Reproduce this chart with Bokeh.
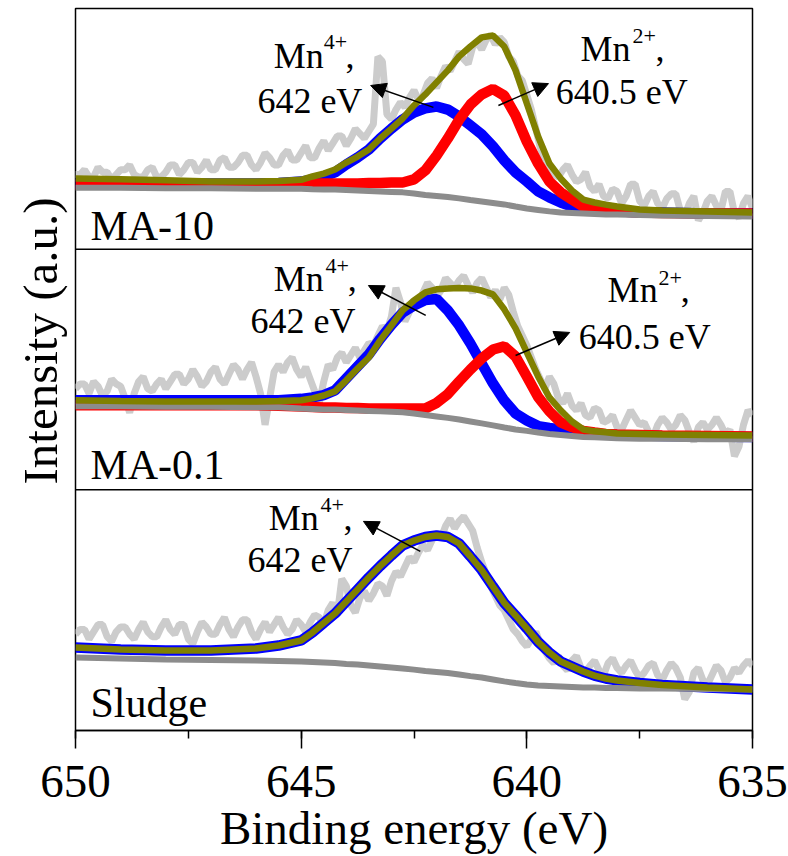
import math
from bokeh.plotting import figure
from bokeh.models import Range1d, Span, Arrow, NormalHead, SingleIntervalTicker, Title
from bokeh.core.properties import value
from bokeh.embed import file_html
from bokeh.resources import INLINE

FONT = "'Liberation Serif', 'Times New Roman', serif"

# ---------------- data (binding energy in eV, intensity in a.u. per panel 0-100) -------------
E_FIT = [650, 649, 648, 647, 646, 645.5, 645, 644.75, 644.5, 644.25, 644, 643.75, 643.5,
         643.25, 643, 642.75, 642.5, 642.25, 642, 641.75, 641.5, 641.25, 641, 640.75, 640.5,
         640.25, 640, 639.75, 639.5, 639.25, 639, 638.75, 638.5, 638.25, 638, 637.5, 637,
         636, 635]
E_RAW = [round(650 - 0.1 * i, 1) for i in range(151)]

# MA-10
MA10_RAW = [31, 31, 33, 30, 30, 34, 32, 32, 29, 31,
            33, 33, 35, 31, 30, 30, 33, 34, 30, 30,
            32, 35, 35, 31, 33, 36, 36, 32, 34, 37,
            33, 33, 37, 38, 34, 34, 36, 39, 39, 35,
            33, 36, 40, 38, 35, 35, 39, 41, 37, 37,
            40, 43, 38, 38, 42, 45, 41, 44, 47, 47,
            43, 46, 50, 48, 46, 49, 52, 80, 78, 56,
            54, 58, 61, 59, 63, 66, 62, 64, 69, 71,
            67, 72, 76, 74, 78, 82, 79, 77, 84, 86,
            83, 87, 89, 85, 88, 86, 80, 78, 72, 70,
            64, 58, 50, 42, 37, 35, 31, 30, 33, 35,
            31, 28, 29, 32, 26, 24, 27, 22, 21, 25,
            24, 19, 22, 27, 27, 20, 18, 22, 24, 19,
            17, 21, 23, 23, 16, 14, 19, 22, 12, 15,
            20, 22, 18, 16, 24, 24, 15, 13, 19, 22,
            17]
MA10_BG = [25.5, 25.5, 25.3, 25.3, 25.1, 25.1, 25.1, 24.9, 24.8, 24.8, 24.6, 24.4, 24.2, 24.0,
           23.8, 23.6, 23.1, 22.5, 22.1, 21.7, 21.1, 20.4, 19.8, 19.2, 18.6, 17.7, 16.9, 16.3,
           15.7, 15.2, 15.0, 14.8, 14.6, 14.4, 14.4, 14.2, 14.0, 13.8, 13.6]
MA10_MN4 = [27.3, 27.3, 27.3, 27.3, 27.3, 27.5, 28.1, 29.0, 30.2, 31.9, 35.2, 38.1, 41.4, 46.0,
            50.1, 53.9, 56.8, 58.5, 59.3, 58.0, 55.1, 51.4, 47.7, 42.7, 36.9, 31.9, 28.1, 24.0,
            21.5, 19.4, 17.7, 16.9, 16.5, 16.1, 15.7, 15.2, 15.2, 14.8, 14.8]
MA10_MN2 = [26.8, 26.8, 26.8, 26.8, 26.8, 26.8, 27.3, 27.3, 27.3, 27.3, 27.3, 27.3, 27.5, 27.5,
            27.7, 27.7, 29.0, 32.7, 38.9, 46.0, 53.8, 60.1, 64.3, 66.6, 63.8, 55.6, 44.7, 35.6,
            28.1, 23.6, 20.6, 17.7, 16.9, 16.1, 15.7, 15.2, 15.0, 14.8, 14.8]
MA10_ENV = [29.4, 29.0, 28.6, 28.1, 28.1, 28.3, 28.8, 30.2, 31.4, 33.1, 36.0, 38.5, 41.4, 46.0,
            50.1, 54.3, 59.7, 64.3, 69.3, 74.3, 80.1, 84.2, 88.0, 88.8, 84.2, 74.3, 60.5, 46.8,
            35.6, 29.4, 24.4, 20.6, 19.4, 18.5, 17.7, 16.5, 16.1, 15.7, 15.2]

# MA-0.1
MA01_RAW = [42, 44, 44, 40, 45, 43, 39, 41, 46, 44,
            43, 38, 32, 40, 45, 47, 42, 41, 44, 46,
            42, 45, 48, 48, 44, 46, 50, 47, 43, 45,
            49, 51, 46, 44, 48, 52, 50, 46, 50, 53,
            47, 40, 27, 38, 49, 52, 49, 53, 55, 50,
            47, 51, 46, 41, 36, 45, 52, 50, 55, 57,
            53, 56, 59, 55, 58, 61, 60, 64, 68, 66,
            72, 84, 78, 70, 74, 79, 77, 82, 86, 84,
            80, 83, 88, 86, 84, 87, 89, 85, 82, 86,
            88, 84, 80, 83, 79, 84, 81, 74, 68, 64,
            60, 55, 50, 46, 42, 47, 44, 38, 36, 40,
            35, 33, 36, 31, 30, 34, 33, 28, 29, 31,
            26, 25, 29, 33, 30, 27, 28, 24, 22, 27,
            30, 28, 25, 27, 31, 29, 24, 20, 26, 28,
            25, 27, 30, 27, 23, 25, 14, 18, 27, 33,
            31]
MA01_BG = [34.7, 34.7, 34.5, 34.5, 34.3, 34.3, 33.8, 33.6, 33.4, 33.4, 33.2, 33.0, 32.8, 32.6,
           32.4, 32.2, 31.7, 31.1, 30.5, 29.9, 29.2, 28.4, 27.6, 26.8, 25.9, 25.1, 24.5, 23.8,
           23.2, 22.8, 22.4, 22.0, 21.8, 21.6, 21.4, 21.2, 21.2, 21.0, 21.0]
MA01_MN4 = [37.2, 37.2, 37.2, 37.2, 37.2, 37.2, 37.8, 38.4, 39.4, 41.3, 46.3, 51.3, 56.3, 62.7,
            68.5, 73.7, 76.6, 78.9, 79.3, 74.5, 68.3, 60.8, 52.5, 44.2, 37.1, 31.7, 28.8, 26.5,
            25.7, 25.1, 24.5, 23.8, 23.4, 23.0, 22.8, 22.6, 22.4, 22.2, 22.0]
MA01_MN2 = [35.1, 35.1, 35.1, 35.1, 35.1, 34.9, 34.6, 34.4, 34.2, 34.2, 34.0, 34.0, 33.8, 33.8,
            33.8, 33.8, 33.8, 33.8, 36.1, 39.8, 45.0, 50.0, 54.6, 58.3, 59.6, 55.4, 47.1, 38.6,
            32.6, 28.0, 26.1, 24.5, 23.8, 23.2, 23.0, 22.8, 22.6, 22.4, 22.2]
MA01_ENV = [37.2, 36.9, 36.7, 36.7, 36.7, 36.9, 37.2, 38.0, 39.2, 40.9, 45.5, 50.4, 55.0, 62.1,
            68.3, 74.6, 78.7, 82.0, 83.3, 83.7, 83.9, 83.7, 82.8, 81.2, 75.0, 67.1, 57.1, 47.1,
            38.4, 33.0, 28.4, 25.1, 24.3, 23.9, 23.4, 23.2, 23.0, 22.8, 22.6]

# Sludge (single Mn4+ component, equal to the envelope)
SLUDGE_RAW = [40, 42, 42, 38, 41, 44, 44, 39, 37, 41,
              43, 43, 40, 38, 42, 45, 41, 39, 39, 43,
              46, 42, 40, 44, 44, 38, 36, 41, 45, 43,
              40, 40, 44, 47, 42, 39, 43, 46, 46, 41,
              38, 42, 45, 41, 44, 47, 43, 40, 42, 46,
              44, 41, 45, 48, 47, 44, 50, 53, 48, 63,
              60, 52, 49, 55, 58, 54, 57, 61, 60, 56,
              62, 66, 64, 68, 72, 70, 74, 77, 75, 79,
              82, 80, 85, 88, 84, 87, 89, 86, 83, 76,
              70, 65, 60, 56, 52, 50, 46, 42, 40, 37,
              35, 38, 41, 36, 33, 30, 28, 31, 27, 25,
              29, 31, 26, 24, 27, 29, 25, 23, 28, 30,
              26, 24, 27, 29, 25, 22, 24, 27, 28, 23,
              21, 25, 28, 26, 22, 13, 16, 24, 26, 21,
              19, 23, 27, 25, 20, 22, 26, 24, 27, 29,
              27]
SLUDGE_BG = [30.3, 29.9, 29.5, 29.3, 29.1, 28.9, 28.7, 28.5, 28.3, 28.0, 27.6, 27.4, 27.0, 26.6,
             26.2, 25.8, 25.3, 24.7, 24.3, 23.9, 23.3, 22.6, 22.0, 21.2, 20.4, 19.7, 19.1, 18.7,
             18.5, 18.3, 18.1, 17.9, 17.9, 17.7, 17.7, 17.4, 17.4, 17.2, 17.0]
SLUDGE_ENV = [34.5, 33.7, 33.2, 33.2, 34.1, 35.3, 37.4, 40.7, 44.7, 48.6, 53.6, 58.6, 63.6, 68.3,
              72.7, 76.9, 78.9, 80.4, 81.0, 80.4, 77.7, 72.3, 66.7, 59.8, 53.0, 47.8, 42.4, 36.8,
              32.4, 28.7, 26.6, 24.5, 22.8, 21.6, 20.8, 19.7, 18.9, 17.9, 17.0]
SLUDGE_MN4 = list(SLUDGE_ENV)

PANELS = ["MA-10", "MA-0.1", "Sludge"]

# ---------------- figure -------------
p = figure(width=788, height=856, output_backend="svg", toolbar_location=None,
           x_range=Range1d(650, 635), y_range=Range1d(0, 300),
           min_border_left=75, min_border_right=36, min_border_top=8, min_border_bottom=126)
p.yaxis.visible = False
p.grid.visible = False
p.outline_line_color = "black"
p.outline_line_width = 1.5
p.background_fill_color = "white"
p.border_fill_color = "white"

ax = p.xaxis[0]
ax.ticker = SingleIntervalTicker(interval=5, num_minor_ticks=2)
ax.axis_line_width = 1.5
ax.major_tick_line_width = 1.5
ax.minor_tick_line_width = 1.5
ax.major_tick_in = 0
ax.major_tick_out = 18
ax.minor_tick_in = 0
ax.minor_tick_out = 8
ax.major_label_text_font = FONT
ax.major_label_text_font_size = "47px"
ax.major_label_text_color = "black"
ax.major_label_standoff = 17
ax.axis_label = "Binding energy (eV)"
ax.axis_label_text_font = FONT
ax.axis_label_text_font_size = "47px"
ax.axis_label_text_font_style = "normal"
ax.axis_label_text_color = "black"
ax.axis_label_standoff = 2

p.add_layout(Title(text="Intensity (a.u.)", align="left", vertical_align="middle",
                   offset=246, standoff=14, text_font=FONT, text_font_size="49px",
                   text_font_style="normal", text_color="black"), "left")

RAW_C, BG_C, MN4_C, MN2_C, ENV_C = "#cccccc", "#8c8c8c", "#0000ff", "#ff0000", "#808000"

panel_data = [
    (200, MA10_RAW, MA10_BG, MA10_MN4, MA10_MN2, MA10_ENV),
    (100, MA01_RAW, MA01_BG, MA01_MN4, MA01_MN2, MA01_ENV),
    (0, SLUDGE_RAW, SLUDGE_BG, SLUDGE_MN4, None, SLUDGE_ENV),
]
for off, raw, bg, mn4, mn2, env in panel_data:
    p.line(E_RAW, [v + off for v in raw], line_color=RAW_C, line_width=7)
    p.line(E_FIT, [v + off for v in mn4], line_color=MN4_C, line_width=10.5)
    if mn2 is not None:
        p.line(E_FIT, [v + off for v in mn2], line_color=MN2_C, line_width=10.5)
    p.line(E_FIT, [v + off for v in bg], line_color=BG_C, line_width=6)
    p.line(E_FIT, [v + off for v in env], line_color=ENV_C, line_width=6.5)

for yb in (100, 200):
    p.add_layout(Span(location=yb, dimension="width", line_color="black", line_width=1.5))

# ---------------- annotation texts -------------
NAME_X = [649.67, 649.67, 649.67]
NAME_Y = [209.5, 110.2, 11.3]

MN_TEXT = ["Mn", ",", "642 eV", "Mn", ",", "640.5 eV",
           "Mn", ",", "642 eV", "Mn", ",", "640.5 eV",
           "Mn", ",", "642 eV"]
MN_X = [645.61, 644.02, 645.97, 638.81, 637.15, 639.36,
        645.61, 643.97, 646.12, 638.21, 636.59, 638.85,
        645.72, 644.06, 646.19]
MN_Y = [280.45, 280.45, 261.75, 283.35, 283.35, 265.1,
        187.45, 187.45, 170.35, 182.85, 182.85, 163.35,
        88.15, 88.15, 70.65]

SUP_TEXT = ["4+", "2+", "4+", "2+", "4+"]
SUP_X = [644.50, 637.66, 644.46, 637.08, 644.57]
SUP_Y = [285.9, 288.4, 192.8, 188.2, 93.5]

p.text(NAME_X, NAME_Y, text=PANELS, text_font=value(FONT), text_font_size="42px",
       text_color="black", text_align="left", text_baseline="alphabetic")
p.text(MN_X, MN_Y, text=MN_TEXT, text_font=value(FONT), text_font_size="36px",
       text_color="black", text_align="left", text_baseline="alphabetic")
p.text(SUP_X, SUP_Y, text=SUP_TEXT, text_font=value(FONT), text_font_size="22px",
       text_color="black", text_align="left", text_baseline="alphabetic")

ARROWS = [(642.07, 258.9, 643.46, 268.0), (640.63, 259.7, 639.52, 268.8),
          (642.24, 172.5, 643.51, 184.9), (640.25, 155.8, 639.05, 165.4),
          (642.36, 74.4, 643.62, 86.9)]
for x0, y0, x1, y1 in ARROWS:
    p.add_layout(Arrow(end=NormalHead(size=15, fill_color="black", line_color="black"),
                       x_start=x0, y_start=y0, x_end=x1, y_end=y1,
                       line_color="black", line_width=1.5))

open("out.html", "w").write(file_html(p, INLINE))
